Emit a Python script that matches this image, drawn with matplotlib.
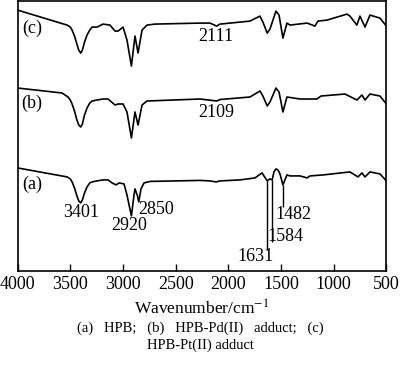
import numpy as np
import matplotlib
matplotlib.use("Agg")
import matplotlib.pyplot as plt

plt.rcParams['font.family'] = ['Liberation Serif', 'DejaVu Serif']
plt.rcParams['mathtext.fontset'] = 'stix'

# spectra: wavenumber (cm-1) and offset intensity (arb. units)
wn_a = [4000, 3530, 3500, 3483, 3460, 3440, 3420, 3401, 3385, 3365, 3341, 3315, 3293,
        3246, 3189, 3142, 3104, 3066, 3037, 2990, 2962, 2920, 2895, 2886, 2862, 2850,
        2829, 2800, 2743, 2506, 2269, 2174, 2117, 2079, 1890, 1747, 1681, 1643, 1631,
        1605, 1584, 1567, 1548, 1529, 1510, 1482, 1444, 1415, 1320, 1253, 1225, 1101,
        846, 770, 732, 703, 656, 561, 500]
T_a = [103, 94, 92, 89, 83, 76, 70, 68, 71, 78, 84, 88, 89,
       90, 91, 91, 88, 86, 88, 87, 76, 55, 76, 82, 75, 69,
       82, 88, 89.5, 90, 90.5, 90, 89, 90, 91, 93, 98, 92, 90,
       92, 91, 99, 102, 101, 97, 86, 96, 95, 95, 93, 95, 96,
       99, 94, 98, 94, 99, 97, 90]

wn_b = [4000, 3578, 3521, 3500, 3483, 3460, 3440, 3420, 3401, 3385, 3365, 3341, 3315,
        3293, 3246, 3189, 3142, 3075, 3047, 2999, 2962, 2920, 2886, 2857, 2819, 2772,
        2269, 2109, 2079, 1795, 1700, 1672, 1631, 1605, 1548, 1519, 1482, 1444, 1320,
        1160, 1120, 893, 780, 732, 703, 656, 561, 500]
T_b = [183, 178, 174, 171, 167, 160, 152, 146, 144, 147, 156, 163, 168,
       170, 171, 172, 172, 166, 167, 167, 159, 133, 159, 146, 166, 170,
       172, 170, 171.5, 174, 180, 175, 165, 169, 183, 179, 159, 174, 172,
       172, 175, 177, 171, 176, 171, 177, 175, 167]

wn_c = [4000, 3530, 3500, 3483, 3460, 3440, 3420, 3401, 3385, 3365, 3341, 3315, 3293,
        3246, 3189, 3123, 3075, 3047, 2999, 2962, 2920, 2886, 2857, 2819, 2772, 2696,
        2269, 2174, 2111, 2079, 1795, 1700, 1672, 1631, 1605, 1548, 1519, 1482, 1444,
        1415, 1253, 1178, 1150, 1064, 874, 846, 780, 751, 703, 656, 561, 500]
T_c = [261, 246, 244, 241, 235, 228, 221, 218, 221, 229, 236, 241, 244,
       244, 247, 246, 240, 240, 244, 231, 205, 235, 218, 241, 246, 247,
       248, 248, 245, 247, 250, 255, 249, 238, 242, 260, 256, 233, 248,
       246, 248, 245, 250, 251, 257, 255, 246, 255, 244, 256, 253, 245]

# peak labels (text, x, y)
peak_labels = [("3401", 3400, 58), ("2920", 2938, 45), ("2850", 2686, 61),
               ("1482", 1387, 56), ("1584", 1463, 34), ("1631", 1738, 14),
               ("2111", 2117, 235), ("2109", 2117, 158)]
# leader lines for (a): wavenumber, top, bottom
lead_wn = [1631, 1584, 1482]
lead_top = [90, 91, 86]
lead_bot = [21, 29, 64]

curve_names = ["(a)", "(b)", "(c)"]
curve_name_y = [87, 168, 243]

fig = plt.figure(figsize=(4, 3.72), dpi=100)
ax = fig.add_axes([0.044, 0.272, 0.922, 0.725])

for wn, T in [(wn_a, T_a), (wn_b, T_b), (wn_c, T_c)]:
    ax.plot(wn, T, color='black', lw=1.2, solid_joinstyle='round')

ax.vlines(lead_wn, lead_bot, lead_top, color='black', lw=1.0)

for txt, x, y in peak_labels:
    ax.text(x, y, txt, ha='center', va='center', fontsize=13)
for name, y in zip(curve_names, curve_name_y):
    ax.text(3862, y, name, ha='center', va='center', fontsize=13)

ax.set_xlim(4000, 500)
ax.set_ylim(0, 270)
ax.set_xticks([4000, 3500, 3000, 2500, 2000, 1500, 1000, 500])
ax.set_yticks([])
ax.tick_params(axis='x', direction='in', length=5, width=1, labelsize=13, pad=4)
for s in ax.spines.values():
    s.set_linewidth(1.2)

fig.text(0.505, 1 - 309 / 372, "Wavenumber/cm$^{-1}$", ha='center', va='center', fontsize=12.5)
fig.text(0.5, 1 - 328 / 372, "(a)   HPB;   (b)   HPB-Pd(II)   adduct;   (c)", ha='center', va='center', fontsize=10.5)
fig.text(0.5, 1 - 345 / 372, "HPB-Pt(II) adduct", ha='center', va='center', fontsize=10.5)

fig.savefig("out.png", dpi=100)
